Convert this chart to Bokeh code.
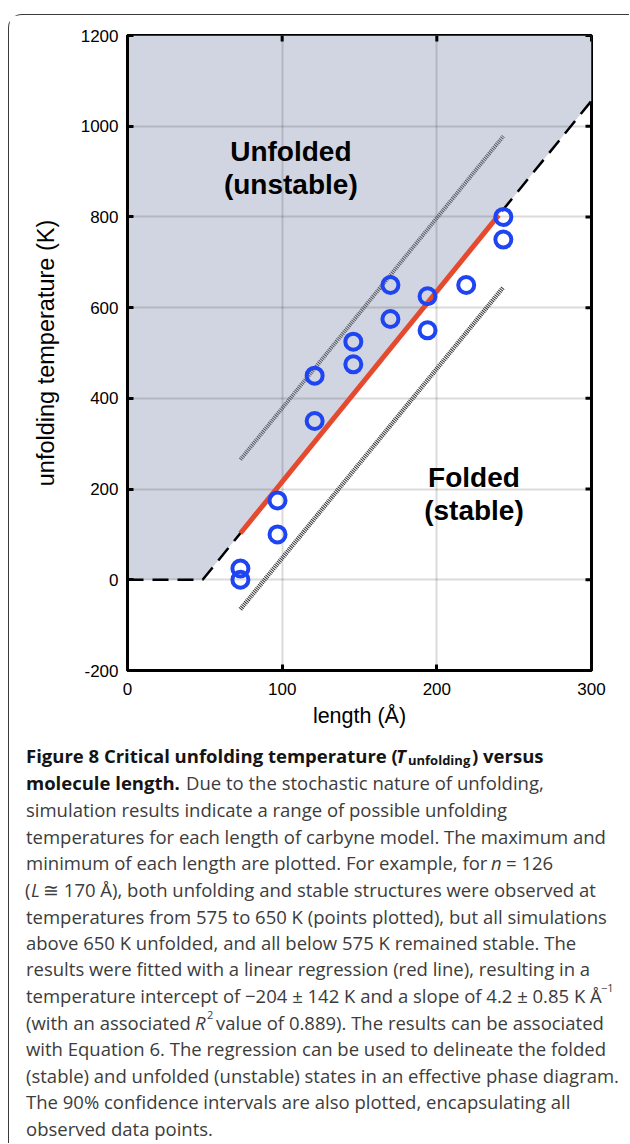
from bokeh.plotting import figure
from bokeh.layouts import column
from bokeh.models import Range1d, FixedTicker
from bokeh.core.properties import value
from bokeh.embed import file_html
from bokeh.resources import INLINE

# ---------------- data ----------------
length_A = [73, 73, 97, 97, 121, 121, 146, 146, 170, 170, 194, 194, 219, 243, 243]
temp_K = [25, 0, 175, 100, 450, 350, 525, 475, 650, 575, 625, 550, 650, 800, 750]

fit_intercept = -204.0   # K
fit_slope = 4.2          # K / Angstrom
fit_x = [73, 240]
fit_y = [fit_intercept + fit_slope * v for v in fit_x]

ci_x = [73, 243]
ci_upper = [265, 978]
ci_lower = [-65, 645]

x_zero = -fit_intercept / fit_slope
boundary_x = [0, x_zero, 300]
boundary_y = [0, 0, fit_intercept + fit_slope * 300]

x_ticks = [0, 100, 200, 300]
y_ticks = [-200, 0, 200, 400, 600, 800, 1000, 1200]
X_MIN, X_MAX, Y_MIN, Y_MAX = 0, 300, -200, 1200

SANS = "Liberation Sans"

# ---------------- chart ----------------
W = 620
HA = 720
ML, MR, MT, MB = 118, 38, 20, 65
p = figure(width=W, height=HA, x_range=Range1d(X_MIN, X_MAX), y_range=Range1d(Y_MIN, Y_MAX),
           output_backend="svg", toolbar_location=None,
           min_border_left=ML, min_border_right=MR, min_border_top=MT, min_border_bottom=MB,
           background_fill_color="white", border_fill_color="white")
p.outline_line_color = "black"
p.outline_line_width = 3

for ax in (p.xaxis[0], p.yaxis[0]):
    ax.major_tick_in = 6
    ax.major_tick_out = 0
    ax.minor_tick_line_color = None
    ax.axis_line_width = 3
    ax.major_tick_line_width = 3
    ax.major_label_text_font = SANS
    ax.major_label_text_font_size = "17px"
    ax.major_label_text_color = "black"
    ax.axis_label_text_font = SANS
    ax.axis_label_text_font_style = "normal"
    ax.axis_label_text_color = "black"

p.xaxis[0].ticker = FixedTicker(ticks=x_ticks)
p.yaxis[0].ticker = FixedTicker(ticks=y_ticks)
p.yaxis[0].major_label_overrides = {t: str(t) for t in y_ticks}
p.xaxis[0].axis_label = "length (Å)"
p.yaxis[0].axis_label = "unfolding temperature (K)"
p.xaxis[0].axis_label_text_font_size = "21.5px"
p.yaxis[0].axis_label_text_font_size = "23.5px"
p.xaxis[0].major_label_standoff = 12
p.yaxis[0].major_label_standoff = 9
p.xaxis[0].axis_label_standoff = 6
p.yaxis[0].axis_label_standoff = 19

p.grid.grid_line_color = "black"
p.grid.grid_line_alpha = 0.14
p.grid.grid_line_width = 2

# unfolded (unstable) region
p.patch([X_MIN, x_zero, X_MAX, X_MAX, X_MIN], [0, 0, boundary_y[-1], Y_MAX, Y_MAX],
        fill_color="#d1d5e1", line_color=None, level="image")

# inward ticks on the top and right edges of the box
frame_w = W - ML - MR
frame_h = HA - MT - MB
tick_dy = 6 * (Y_MAX - Y_MIN) / frame_h
tick_dx = 6 * (X_MAX - X_MIN) / frame_w
p.segment(x0=x_ticks, y0=[Y_MAX] * len(x_ticks), x1=x_ticks, y1=[Y_MAX - tick_dy] * len(x_ticks),
          line_color="black", line_width=3)
p.segment(x0=[X_MAX] * len(y_ticks), y0=y_ticks, x1=[X_MAX - tick_dx] * len(y_ticks), y1=y_ticks,
          line_color="black", line_width=3)

p.line(boundary_x, boundary_y, line_color="black", line_width=2.5, line_dash="16 9")
p.line(ci_x, ci_upper, line_color="#55565e", line_width=4, line_dash="1 1")
p.line(ci_x, ci_lower, line_color="#333333", line_width=4.5, line_dash="1 1")
p.line(fit_x, fit_y, line_color="#e64a2e", line_width=5)
p.scatter(length_A, temp_K, marker="circle", size=16, fill_color=None,
          line_color="#1f44f2", line_width=4)

for tx, ty, t in ((105.6, 944, "Unfolded"), (105.6, 871, "(unstable)"),
                  (224, 226, "Folded"), (224, 153, "(stable)")):
    p.text([tx], [ty], text=[t], text_font=value(SANS), text_font_style="bold",
           text_font_size="28px", text_align="center", text_baseline="middle",
           text_color="black")

# ---------------- caption ----------------
OX, OY = 9.5, 15.5 + HA      # page position of the caption panel's top-left corner
HB = 408
c = figure(width=W, height=HB, x_range=Range1d(OX, OX + W), y_range=Range1d(OY + HB, OY),
           output_backend="svg", toolbar_location=None, x_axis_location=None,
           y_axis_location=None, min_border=0, outline_line_color=None,
           background_fill_color="white", border_fill_color="white")
c.grid.visible = False

for fig in (p, c):
    try:
        fig.frame_align = False
    except Exception:
        pass

CAP = "Open Sans"
FS = "18.5px"
SUB = "13px"
BOLD_C = "#141414"
NORM_C = "#3c3c3c"
ys = [755, 782, 809, 836, 862, 889, 916, 942, 968, 995, 1022, 1048, 1075, 1101, 1128]

# (x, line_index, text, style, size, color, dy)
segments = [
    (26, 0, "Figure 8 Critical unfolding temperature (", "bold", FS, BOLD_C, 0),
    (396, 0, "T", "bold italic", FS, BOLD_C, 0),
    (408, 0, "unfolding", "bold", SUB, BOLD_C, 5),
    (472, 0, ") versus", "bold", FS, BOLD_C, 0),
    (26, 1, "molecule length.", "bold", FS, BOLD_C, 0),
    (186, 1, "Due to the stochastic nature of unfolding,", "normal", FS, NORM_C, 0),
    (26, 2, "simulation results indicate a range of possible unfolding", "normal", FS, NORM_C, 0),
    (26, 3, "temperatures for each length of carbyne model. The maximum and", "normal", FS, NORM_C, 0),
    (26, 4, "minimum of each length are plotted. For example, for", "normal", FS, NORM_C, 0),
    (491, 4, "n", "italic", FS, NORM_C, 0),
    (506, 4, "= 126", "normal", FS, NORM_C, 0),
    (25, 5, "(", "normal", FS, NORM_C, 0),
    (31, 5, "L", "italic", FS, NORM_C, 0),
    (43, 5, "≅ 170 Å), both unfolding and stable structures were observed at", "normal", FS, NORM_C, 0),
    (26, 6, "temperatures from 575 to 650 K (points plotted), but all simulations", "normal", FS, NORM_C, 0),
    (26, 7, "above 650 K unfolded, and all below 575 K remained stable. The", "normal", FS, NORM_C, 0),
    (26, 8, "results were fitted with a linear regression (red line), resulting in a", "normal", FS, NORM_C, 0),
    (26, 9, "temperature intercept of −204 ± 142 K and a slope of 4.2 ± 0.85 K Å", "normal", FS, NORM_C, 0),
    (601, 9, "−1", "normal", "11px", NORM_C, -7),
    (26, 10, "(with an associated", "normal", FS, NORM_C, 0),
    (195, 10, "R", "italic", FS, NORM_C, 0),
    (207, 10, "2", "normal", "11px", NORM_C, -7),
    (216, 10, "value of 0.889). The results can be associated", "normal", FS, NORM_C, 0),
    (26, 11, "with Equation 6. The regression can be used to delineate the folded", "normal", FS, NORM_C, 0),
    (26, 12, "(stable) and unfolded (unstable) states in an effective phase diagram.", "normal", FS, NORM_C, 0),
    (26, 13, "The 90% confidence intervals are also plotted, encapsulating all", "normal", FS, NORM_C, 0),
    (26, 14, "observed data points.", "normal", FS, NORM_C, 0),
]
for sx, li, t, st, fs, col, dy in segments:
    c.text([sx], [ys[li] + dy], text=[t], text_font=value(CAP), text_font_style=st,
           text_font_size=fs, text_color=col, text_align="left", text_baseline="middle")

layout = column(p, c, styles={"border-top": "1.5px solid #3a3a3a",
                              "border-left": "1.5px solid #3a3a3a",
                              "border-top-left-radius": "14px",
                              "margin-top": "14px",
                              "margin-left": "8px"})

open("out.html", "w").write(file_html(layout, INLINE))
